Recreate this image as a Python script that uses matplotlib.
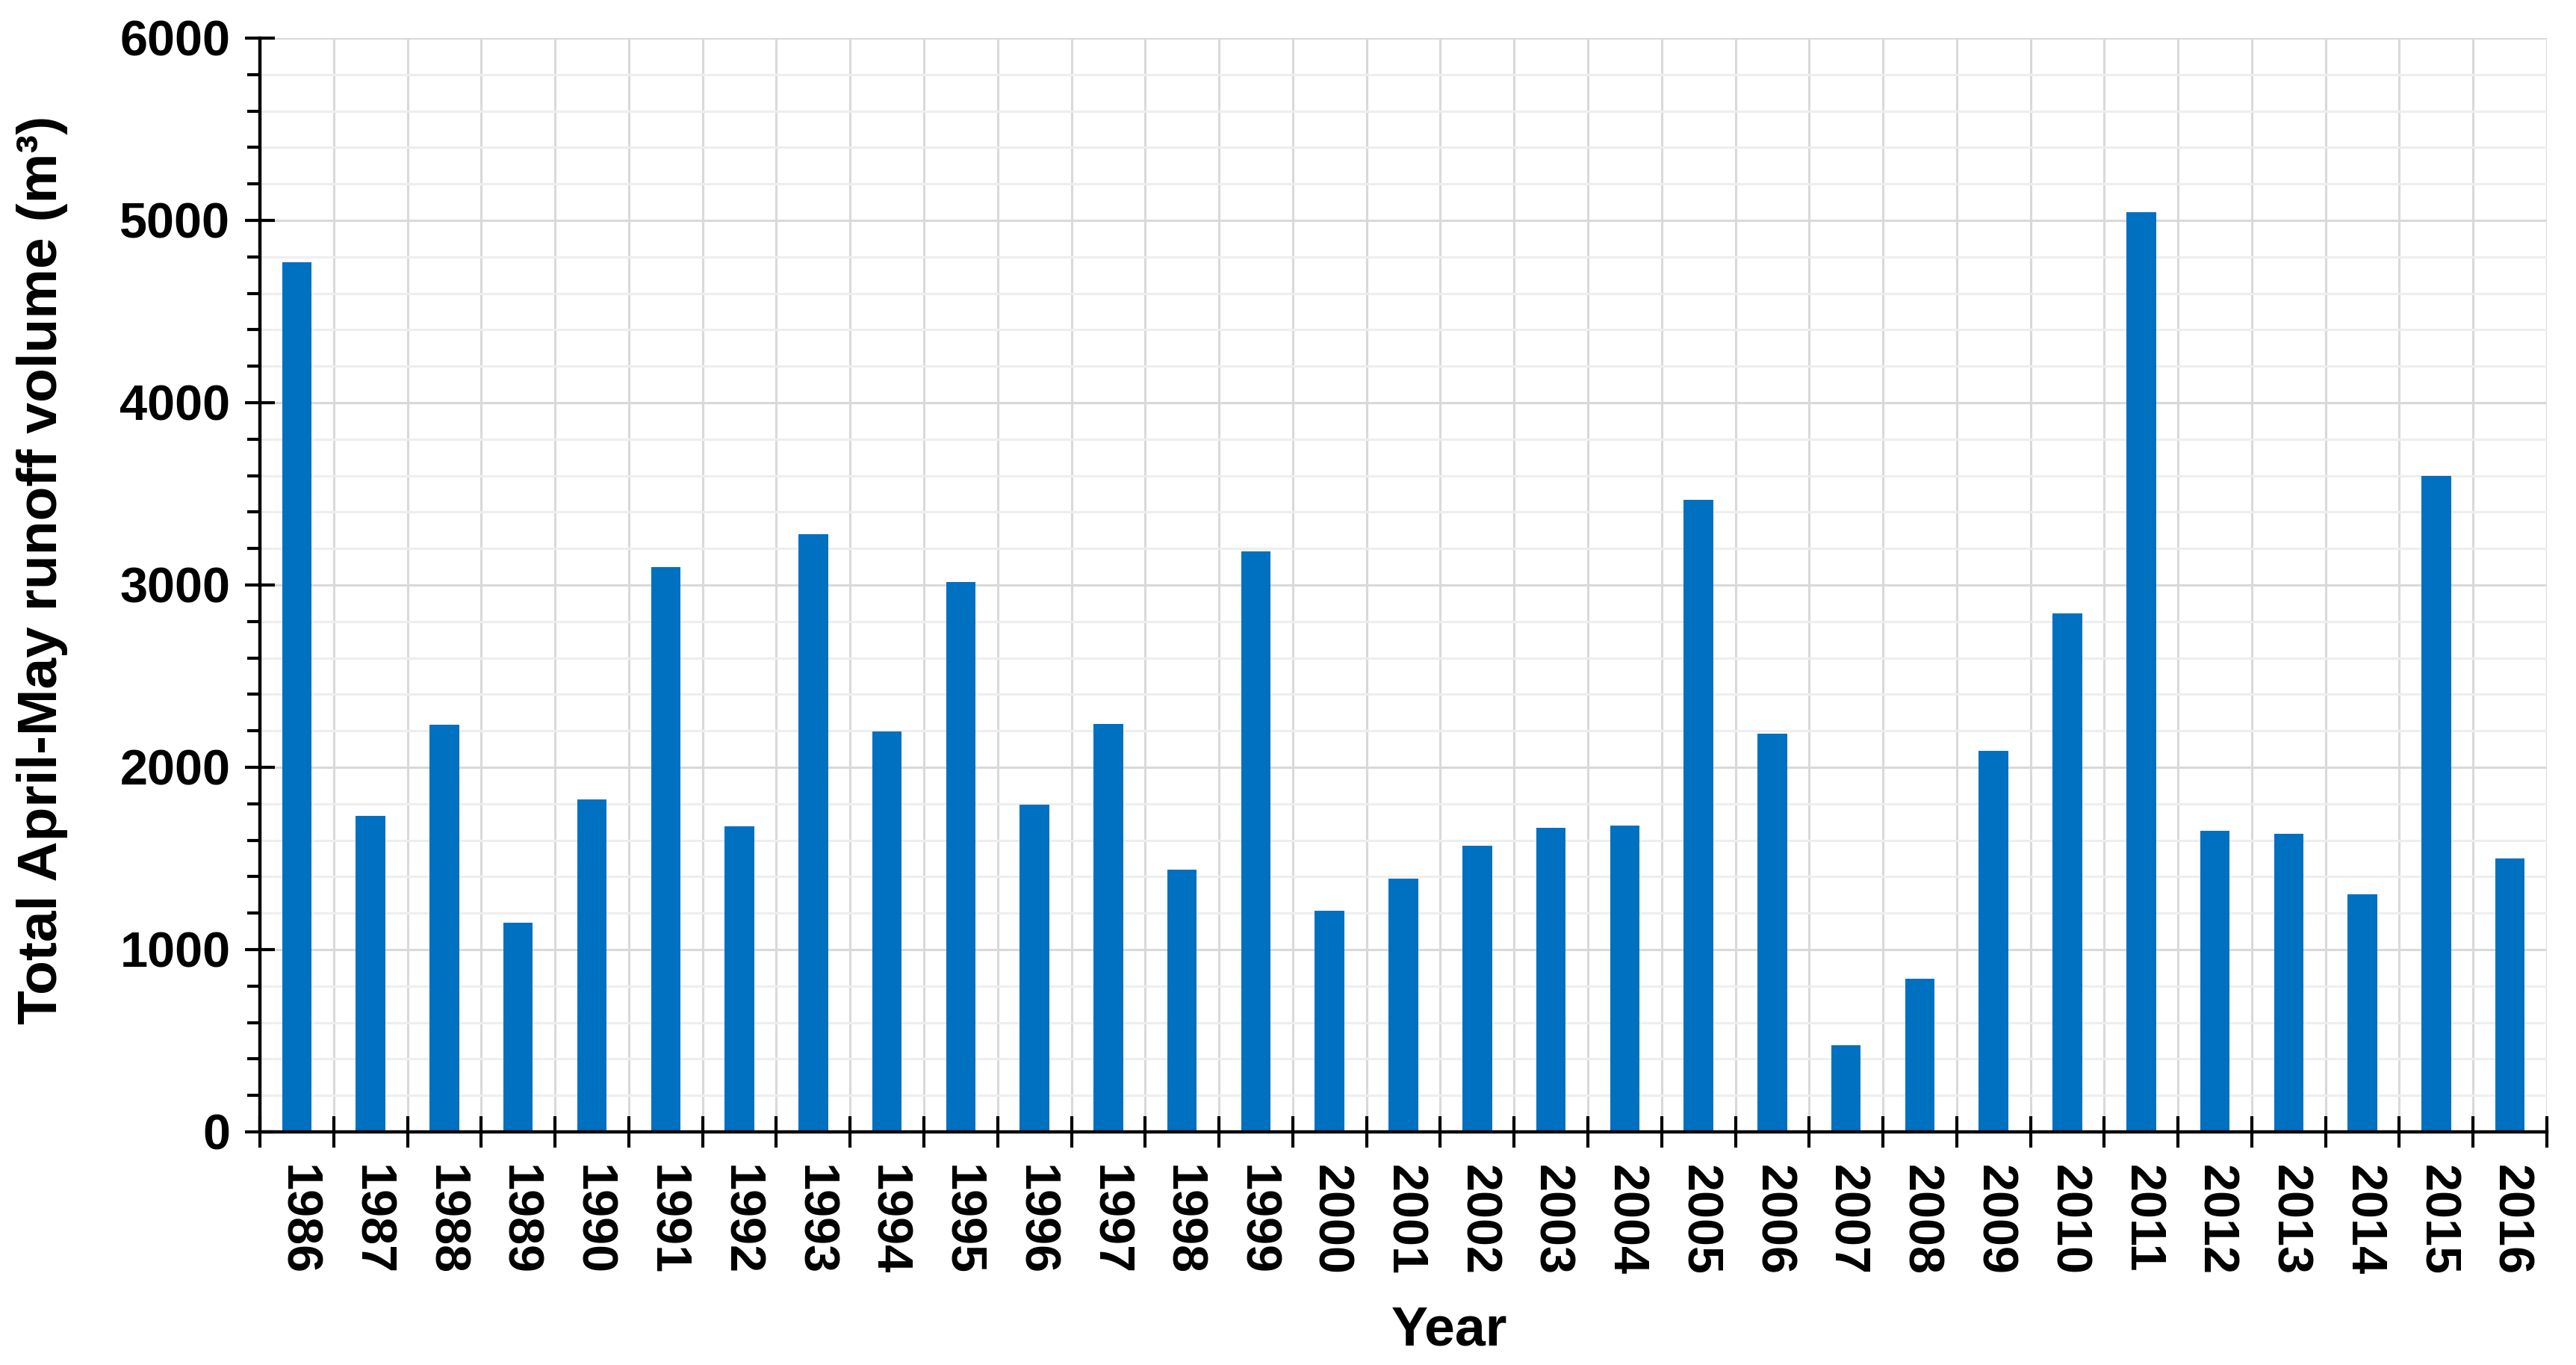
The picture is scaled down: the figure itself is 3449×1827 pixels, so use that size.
import numpy as np
import matplotlib
matplotlib.use("Agg")
import matplotlib.pyplot as plt
from matplotlib.ticker import MultipleLocator, FixedLocator

# April-May runoff volume per year (m3)
years = list(range(1986, 2017))
runoff = [4770, 1734, 2232, 1147, 1825, 3100, 1678, 3278, 2198, 3018,
          1795, 2237, 1440, 3183, 1213, 1390, 1569, 1666, 1679, 3469,
          2186, 476, 838, 2090, 2846, 5047, 1652, 1634, 1302, 3597, 1500]

plt.rcParams['font.family'] = ['Liberation Sans', 'DejaVu Sans']
plt.rcParams['font.weight'] = 'bold'

fig = plt.figure(figsize=(34.49, 18.27), dpi=100)
ax = fig.add_axes([0.1009, 0.1708, 0.8878, 0.8013])

x = np.arange(len(years))
ax.bar(x, runoff, width=0.4, color='#0070C0', zorder=3)

ax.set_xlim(-0.5, len(years) - 0.5)
ax.set_ylim(0, 6000)

# y axis: major every 1000, minor every 200
ax.yaxis.set_major_locator(MultipleLocator(1000))
ax.yaxis.set_minor_locator(MultipleLocator(200))
ax.tick_params(axis='y', which='major', direction='inout', length=29, width=3,
               labelsize=48, pad=14)
ax.tick_params(axis='y', which='minor', direction='out', length=12, width=3)

# x axis: ticks at category boundaries, labels at bar centres
ax.xaxis.set_major_locator(FixedLocator(np.arange(len(years) + 1) - 0.5))
ax.xaxis.set_major_formatter(plt.NullFormatter())
ax.set_xticks(x, labels=[str(y) for y in years], minor=True)
ax.tick_params(axis='x', which='major', direction='inout', length=30, width=3)
ax.tick_params(axis='x', which='minor', length=0, labelsize=48, pad=32,
               labelrotation=-90)
for lab in ax.get_xticklabels(minor=True):
    lab.set_fontweight('bold')
for lab in ax.get_yticklabels():
    lab.set_fontweight('bold')

ax.grid(which='major', axis='both', color='#d9d9d9', linewidth=2.2, zorder=0)
ax.grid(which='minor', axis='y', color='#eeeeee', linewidth=2.2, zorder=0)
ax.set_axisbelow(True)

for s in ['top', 'right']:
    ax.spines[s].set_visible(False)
for s in ['left', 'bottom']:
    ax.spines[s].set_linewidth(3.2)
    ax.spines[s].set_zorder(5)

ax.set_xlabel('Year', fontsize=53, fontweight='bold')
ax.set_ylabel('Total April-May runoff volume (m³)', fontsize=54, fontweight='bold')
ax.xaxis.set_label_coords(0.52, -0.158)
ax.yaxis.set_label_coords(-0.084, 0.514)

fig.savefig('out.png', dpi=100)
